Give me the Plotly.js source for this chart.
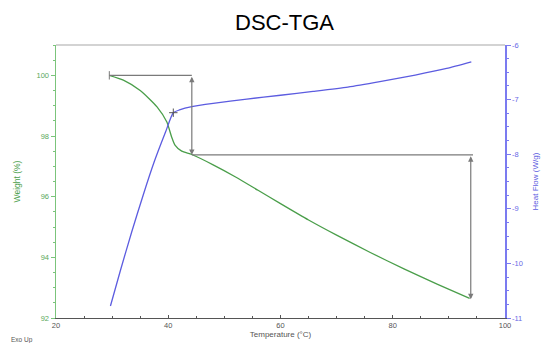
<!DOCTYPE html>
<html>
<head>
<meta charset="utf-8">
<script src="https://cdn.plot.ly/plotly-3.0.1.min.js"></script>
<style>html,body{margin:0;padding:0;background:#fff}#chart{width:544px;height:343px}</style>
</head>
<body>
<div id="chart"></div>
<script>
// Weight (TGA) curve
const tempW = [29.5, 32, 35, 38, 39.75, 40.6, 41.2, 42.4, 44.2, 48, 52, 56, 60, 65, 70, 76, 82, 88, 93.7];
const weight = [100, 99.84, 99.5, 98.96, 98.46, 97.97, 97.7, 97.5, 97.39, 97.05, 96.65, 96.21, 95.77, 95.23, 94.73, 94.16, 93.62, 93.11, 92.65];

// Heat flow (DSC) curve
const tempHF = [29.7, 31.5, 33.5, 35.5, 37.5, 39.5, 40.9, 42.0, 44.2, 48, 54, 60, 65.8, 72, 77.7, 84, 89.6, 94];
const heatFlow = [-10.78, -10.12, -9.42, -8.76, -8.14, -7.6, -7.24, -7.19, -7.13, -7.07, -6.99, -6.92, -6.85, -6.77, -6.67, -6.55, -6.43, -6.31];

// Step analysis markers (weight loss steps)
const stepX = [29.5, 44.2, 93.9];
const stepW = [100, 97.38, 92.62];

// Onset marker on heat flow curve
const kinkX = [40.9];
const kinkHF = [-7.24];

// Tick labels
const xTicks = [20, 40, 60, 80, 100];
const wTicks = [92, 94, 96, 98, 100];
const hfTicks = [-11, -10, -9, -8, -7, -6];
const hfTickText = ['-11', '-10', '-9', '-8', '-7', '-6'];

const green = '#4a9e4a';
const blue = '#5c5ce0';
const grey = '#7a7a7a';

const traces = [
  {x: tempW, y: weight, type: 'scatter', mode: 'lines', line: {color: green, width: 1.3, shape: 'spline', smoothing: 0.6}, yaxis: 'y', hoverinfo: 'skip'},
  {x: tempHF, y: heatFlow, type: 'scatter', mode: 'lines', line: {color: blue, width: 1.3, shape: 'spline', smoothing: 0.6}, yaxis: 'y2', hoverinfo: 'skip'},
  {x: kinkX, y: kinkHF, type: 'scatter', mode: 'markers', marker: {symbol: 'cross-thin', size: 6, line: {color: '#555', width: 1}}, yaxis: 'y2', hoverinfo: 'skip'},
  {x: [stepX[0]], y: [stepW[0]], type: 'scatter', mode: 'markers', marker: {symbol: 'line-ns', size: 6, line: {color: grey, width: 1}}, yaxis: 'y', hoverinfo: 'skip'}
];

const shapes = [
  {type: 'line', xref: 'x', yref: 'y', x0: stepX[0], x1: stepX[1], y0: stepW[0], y1: stepW[0], line: {color: grey, width: 1.2}},
  {type: 'line', xref: 'x', yref: 'y', x0: stepX[1], x1: stepX[2] + 0.4, y0: stepW[1], y1: stepW[1], line: {color: grey, width: 1.2}},
  {type: 'line', xref: 'paper', yref: 'paper', x0: 0, x1: 1, y0: 1, y1: 1, line: {color: '#a8a8a8', width: 1.2}}
];

const annotations = [
  {x: stepX[1], y: stepW[1], ax: stepX[1], ay: stepW[0], xref: 'x', yref: 'y', axref: 'x', ayref: 'y', text: '', showarrow: true, arrowside: 'end+start', arrowhead: 2, arrowsize: 0.9, arrowwidth: 1.2, arrowcolor: grey},
  {x: stepX[2], y: stepW[2], ax: stepX[2], ay: stepW[1], xref: 'x', yref: 'y', axref: 'x', ayref: 'y', text: '', showarrow: true, arrowside: 'end+start', arrowhead: 2, arrowsize: 0.9, arrowwidth: 1.2, arrowcolor: grey},
  {xref: 'paper', yref: 'paper', x: -0.075, y: -0.06, xanchor: 'center', yanchor: 'top', text: 'Exo Up', showarrow: false, font: {family: 'Arial', size: 6.5, color: '#555'}}
];

const layout = {
  width: 544, height: 343,
  margin: {l: 56, r: 39, t: 45, b: 25, pad: 0},
  paper_bgcolor: '#fff', plot_bgcolor: '#fff',
  showlegend: false,
  font: {family: 'Arial, Liberation Sans, sans-serif', size: 8, color: '#444'},
  title: {text: 'DSC-TGA', font: {family: 'Arial, Liberation Sans, sans-serif', size: 22, color: '#000'}, x: 0.523, xanchor: 'center', xref: 'container', y: 0.935, yanchor: 'middle', yref: 'container'},
  xaxis: {
    range: [20, 100], tickvals: xTicks, showgrid: false, zeroline: false,
    showline: true, linecolor: '#555', linewidth: 1.2,
    ticks: 'inside', ticklen: 3, tickcolor: '#555', tickwidth: 1,
    minor: {dtick: 5, ticks: 'inside', ticklen: 2, tickcolor: '#555'},
    tickfont: {size: 7.5, color: '#555'},
    title: {text: 'Temperature (°C)', font: {size: 8, color: '#555'}, standoff: 1}
  },
  yaxis: {
    range: [92, 101], tickvals: wTicks, showgrid: false, zeroline: false,
    showline: true, linecolor: '#7bc47b', linewidth: 1.5,
    ticks: 'outside', ticklen: 4, tickcolor: '#7bc47b', tickwidth: 1,
    minor: {dtick: 0.5, ticks: 'outside', ticklen: 2, tickcolor: '#7bc47b'},
    tickfont: {size: 7.5, color: '#5aa85a'},
    title: {text: 'Weight (%)', font: {size: 8.5, color: '#4a9e4a'}, standoff: 14}
  },
  yaxis2: {
    range: [-11, -6], tickvals: hfTicks, ticktext: hfTickText, overlaying: 'y', side: 'right',
    showgrid: false, zeroline: false,
    showline: true, linecolor: '#7b7bf0', linewidth: 1.5,
    ticks: 'outside', ticklen: 4, tickcolor: '#7b7bf0', tickwidth: 1,
    minor: {dtick: 0.25, ticks: 'outside', ticklen: 2, tickcolor: '#7b7bf0'},
    tickfont: {size: 7.5, color: '#6a6ae6'},
    title: {text: 'Heat Flow (W/g)', font: {size: 8, color: '#5c5ce0'}, standoff: 10}
  },
  shapes: shapes,
  annotations: annotations
};

Plotly.newPlot('chart', traces, layout, {displayModeBar: false, staticPlot: true});
</script>
</body>
</html>
